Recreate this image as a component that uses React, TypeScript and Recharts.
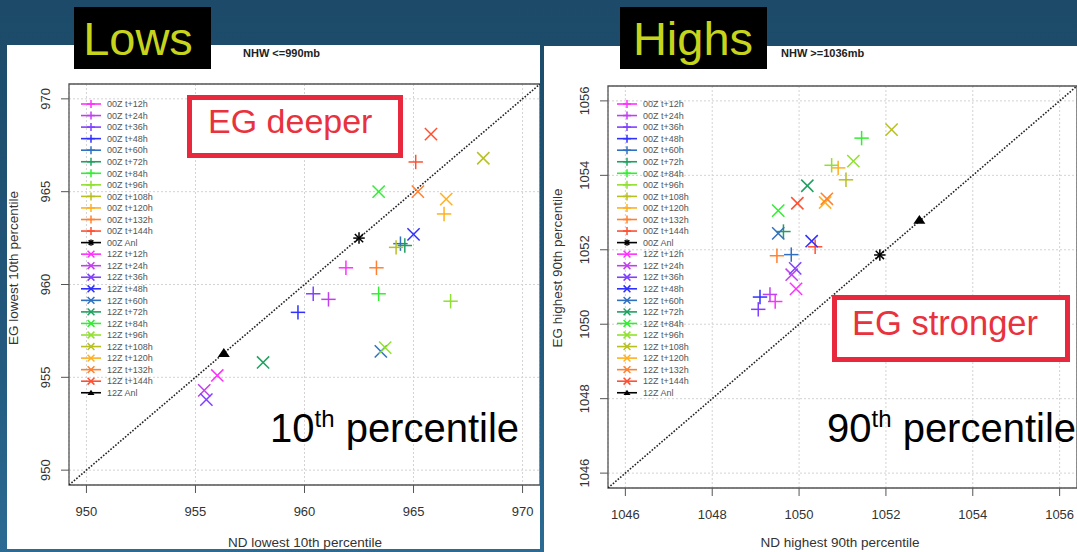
import React from 'react';
import { ScatterChart, Scatter, XAxis, YAxis, CartesianGrid, ReferenceLine, ReferenceArea } from 'recharts';

const FONT = '"Liberation Sans", Arial, Helvetica, sans-serif';

// forecast lead times and their colours (shared by both panels)
const LEADS = ['t+12h', 't+24h', 't+36h', 't+48h', 't+60h', 't+72h', 't+84h', 't+96h', 't+108h', 't+120h', 't+132h', 't+144h'];
const LEAD_COLORS = ['#ff30ff', '#c040f0', '#8040ff', '#3030ff', '#3070c0', '#20a060', '#30ee30', '#90e030', '#b8c020', '#ffb020', '#ff8030', '#ff5030'];

// Lows: ND lowest 10th percentile (x) vs EG lowest 10th percentile (y)
const LOWS_00Z_ND = [961.9, 961.1, 960.4, 959.7, 964.4, 964.6, 963.4, 966.7, 964.2, 966.4, 963.3, 965.1];
const LOWS_00Z_EG = [960.9, 959.2, 959.5, 958.5, 962.2, 962.1, 959.5, 959.1, 962.0, 963.8, 960.9, 966.6];
const LOWS_12Z_ND = [956.0, 955.4, 955.5, 965.0, 963.5, 958.1, 963.4, 963.7, 968.2, 966.5, 965.2, 965.8];
const LOWS_12Z_EG = [955.1, 954.3, 953.8, 962.7, 956.4, 955.8, 965.0, 956.6, 966.8, 964.6, 965.0, 968.1];
const LOWS_ANL_ND = [962.5, 956.3]; // 00Z, 12Z
const LOWS_ANL_EG = [962.5, 956.3];
const LOWS_TICKS = [950, 955, 960, 965, 970];
const LOWS_DOMAIN: [number, number] = [949.2, 970.8];

// Highs: ND highest 90th percentile (x) vs EG highest 90th percentile (y)
const HIGHS_00Z_ND = [1049.45, 1049.33, 1049.06, 1049.1, 1049.82, 1049.64, 1051.44, 1050.75, 1051.08, 1050.9, 1049.49, 1050.37];
const HIGHS_00Z_EG = [1050.61, 1050.8, 1050.4, 1050.73, 1051.87, 1052.49, 1055.0, 1054.27, 1053.88, 1054.2, 1051.84, 1052.08];
const HIGHS_12Z_ND = [1049.93, 1049.83, 1049.91, 1050.29, 1049.52, 1050.19, 1049.52, 1051.25, 1052.13, 1050.6, 1050.64, 1049.96];
const HIGHS_12Z_EG = [1050.95, 1051.33, 1051.5, 1052.23, 1052.44, 1053.72, 1053.05, 1054.38, 1055.23, 1053.27, 1053.37, 1053.25];
const HIGHS_ANL_ND = [1051.86, 1052.77];
const HIGHS_ANL_EG = [1051.86, 1052.8];
const HIGHS_TICKS = [1046, 1048, 1050, 1052, 1054, 1056];
const HIGHS_DOMAIN: [number, number] = [1045.6, 1056.4];

type Kind = 'plus' | 'cross' | 'star' | 'tri';
interface Series { name: string; kind: Kind; color: string; data: { x: number; y: number }[] }

function buildSeries(nd00: number[], eg00: number[], nd12: number[], eg12: number[], anlNd: number[], anlEg: number[]): Series[] {
  const out: Series[] = [];
  LEADS.forEach((l, i) => out.push({ name: `00Z ${l}`, kind: 'plus', color: LEAD_COLORS[i], data: [{ x: nd00[i], y: eg00[i] }] }));
  out.push({ name: '00Z Anl', kind: 'star', color: '#000', data: [{ x: anlNd[0], y: anlEg[0] }] });
  LEADS.forEach((l, i) => out.push({ name: `12Z ${l}`, kind: 'cross', color: LEAD_COLORS[i], data: [{ x: nd12[i], y: eg12[i] }] }));
  out.push({ name: '12Z Anl', kind: 'tri', color: '#000', data: [{ x: anlNd[1], y: anlEg[1] }] });
  return out;
}

function Marker({ kind, cx, cy, color, s }: { kind: Kind; cx: number; cy: number; color: string; s: number }) {
  const sw = 1.5;
  const plus = (
    <g stroke={color} strokeWidth={sw}>
      <line x1={cx - s} y1={cy} x2={cx + s} y2={cy} />
      <line x1={cx} y1={cy - s} x2={cx} y2={cy + s} />
    </g>
  );
  const d = s * 0.85;
  const cross = (
    <g stroke={color} strokeWidth={sw}>
      <line x1={cx - d} y1={cy - d} x2={cx + d} y2={cy + d} />
      <line x1={cx - d} y1={cy + d} x2={cx + d} y2={cy - d} />
    </g>
  );
  if (kind === 'plus') return plus;
  if (kind === 'cross') return cross;
  if (kind === 'star') {
    const a = s * 0.8;
    const b = a * 0.72;
    return (
      <g stroke={color} strokeWidth={sw}>
        <line x1={cx - a} y1={cy} x2={cx + a} y2={cy} />
        <line x1={cx} y1={cy - a} x2={cx} y2={cy + a} />
        <line x1={cx - b} y1={cy - b} x2={cx + b} y2={cy + b} />
        <line x1={cx - b} y1={cy + b} x2={cx + b} y2={cy - b} />
      </g>
    );
  }
  const h = s * 0.85;
  return <polygon points={`${cx},${cy - h} ${cx + s},${cy + h * 0.75} ${cx - s},${cy + h * 0.75}`} fill={color} />;
}

const RotTick = (props: any) => {
  const { x, y, payload } = props;
  return (
    <text x={x} y={y} transform={`rotate(-90 ${x} ${y})`} textAnchor="middle" fontSize={13} fill="#333" fontFamily={FONT}>
      {payload.value}
    </text>
  );
};

interface PanelProps {
  left: number; width: number; top: number; yAxisWidth: number; xAxisHeight: number;
  domain: [number, number]; ticks: number[]; series: Series[];
}

function Panel({ left, width, top, yAxisWidth, xAxisHeight, domain, ticks, series }: PanelProps) {
  return (
    <div style={{ position: 'absolute', left, top: 0 }}>
      <ScatterChart width={width} height={552} margin={{ top, right: 0, bottom: 0, left: 0 }}>
        <CartesianGrid stroke="#d3d3d3" strokeDasharray="2 2" />
        <XAxis type="number" dataKey="x" domain={domain} ticks={ticks} allowDataOverflow height={xAxisHeight}
          axisLine={false} tickLine={{ stroke: '#555' }} tickSize={8} tickMargin={14}
          tick={{ fontSize: 13, fill: '#333', fontFamily: FONT }} />
        <YAxis type="number" dataKey="y" domain={domain} ticks={ticks} allowDataOverflow width={yAxisWidth}
          axisLine={false} tickLine={{ stroke: '#555' }} tickSize={8} tickMargin={11}
          tick={(p: any) => <RotTick {...p} />} />
        <ReferenceArea x1={domain[0]} x2={domain[1]} y1={domain[0]} y2={domain[1]} fill="none" fillOpacity={0} stroke="#555" strokeWidth={1.3} />
        <ReferenceLine segment={[{ x: domain[0], y: domain[0] }, { x: domain[1], y: domain[1] }]}
          stroke="#222" strokeWidth={1.6} strokeDasharray="1.6 1.6" ifOverflow="hidden" />
        {series.map((s) => (
          <Scatter key={s.name} name={s.name} data={s.data} isAnimationActive={false}
            shape={(p: any) => <Marker kind={s.kind} color={s.color} cx={p.cx} cy={p.cy} s={s.kind === 'tri' ? 6 : 7.2} />} />
        ))}
      </ScatterChart>
    </div>
  );
}

function LegendBlock({ left, series }: { left: number; series: Series[] }) {
  return (
    <svg style={{ position: 'absolute', left, top: 98 }} width={100} height={305}>
      {series.map((s, i) => {
        const y = 6 + i * 11.55;
        return (
          <g key={s.name}>
            <line x1={0} y1={y} x2={20} y2={y} stroke={s.color} strokeWidth={1.6} />
            <Marker kind={s.kind} color={s.color} cx={10} cy={y} s={s.kind === 'tri' ? 3.5 : 4} />
            <text x={26} y={y + 3.2} fontSize={9} fill="#555" fontFamily={FONT}>{s.name}</text>
          </g>
        );
      })}
    </svg>
  );
}

function Overlay() {
  return (
    <svg style={{ position: 'absolute', left: 0, top: 0, pointerEvents: 'none' }} width={1077} height={552} fontFamily={FONT}>
      {/* panel tags */}
      <rect x={74} y={7} width={137} height={62} fill="#000" />
      <text x={138} y={55} fontSize={47} fill="#c6d41c" textAnchor="middle">Lows</text>
      <rect x={620} y={7} width={147} height={62} fill="#000" />
      <text x={693} y={55} fontSize={47} fill="#c6d41c" textAnchor="middle">Highs</text>

      {/* titles */}
      <text x={243} y={57} fontSize={11} fontWeight="bold" fill="#222">NHW &lt;=990mb</text>
      <text x={781} y={57} fontSize={11} fontWeight="bold" fill="#222">NHW &gt;=1036mb</text>

      {/* axis titles */}
      <text x={305} y={547} fontSize={13.5} fill="#333" textAnchor="middle">ND lowest 10th percentile</text>
      <text x={840} y={547} fontSize={13.5} fill="#333" textAnchor="middle">ND highest 90th percentile</text>
      <text x={18} y={268} fontSize={13.5} fill="#333" textAnchor="middle" transform="rotate(-90 18 268)">EG lowest 10th percentile</text>
      <text x={562} y={268} fontSize={13.5} fill="#333" textAnchor="middle" transform="rotate(-90 562 268)">EG highest 90th percentile</text>

      {/* annotation boxes */}
      <rect x={189.5} y={97.5} width={211} height={58} fill="#fff" stroke="#e8283c" strokeWidth={5} />
      <text x={208} y={133} fontSize={34} fill="#e8323e">EG deeper</text>
      <rect x={834.5} y={297.5} width={233} height={62} fill="#fff" stroke="#e8283c" strokeWidth={5} />
      <text x={852} y={335} fontSize={34.5} fill="#e8323e">EG stronger</text>

      {/* percentile labels */}
      <text x={270} y={442} fontSize={40} fill="#000">
        10<tspan fontSize={24} dy={-15}>th</tspan><tspan fontSize={40} dy={15}> percentile</tspan>
      </text>
      <text x={827} y={442} fontSize={40} fill="#000">
        90<tspan fontSize={24} dy={-15}>th</tspan><tspan fontSize={40} dy={15}> percentile</tspan>
      </text>
    </svg>
  );
}

export default function App() {
  const lows = buildSeries(LOWS_00Z_ND, LOWS_00Z_EG, LOWS_12Z_ND, LOWS_12Z_EG, LOWS_ANL_ND, LOWS_ANL_EG);
  const highs = buildSeries(HIGHS_00Z_ND, HIGHS_00Z_EG, HIGHS_12Z_ND, HIGHS_12Z_EG, HIGHS_ANL_ND, HIGHS_ANL_EG);

  return (
    <div style={{
      position: 'absolute', left: 0, top: 0, width: 1077, height: 552, overflow: 'hidden',
      background: 'linear-gradient(180deg, #1c4a68 0%, #22587c 60%, #2b6b93 100%)', fontFamily: FONT,
    }}>
      <div style={{ position: 'absolute', left: 7, top: 45, width: 533, height: 504, background: '#fff' }} />
      <div style={{ position: 'absolute', left: 544, top: 46, width: 533, height: 506, background: '#fff' }} />
      <Panel left={0} width={540} top={84} yAxisWidth={69} xAxisHeight={67} domain={LOWS_DOMAIN} ticks={LOWS_TICKS} series={lows} />
      <Panel left={545} width={532} top={86} yAxisWidth={63} xAxisHeight={64} domain={HIGHS_DOMAIN} ticks={HIGHS_TICKS} series={highs} />
      <LegendBlock left={81} series={lows} />
      <LegendBlock left={617} series={highs} />
      <Overlay />
    </div>
  );
}
